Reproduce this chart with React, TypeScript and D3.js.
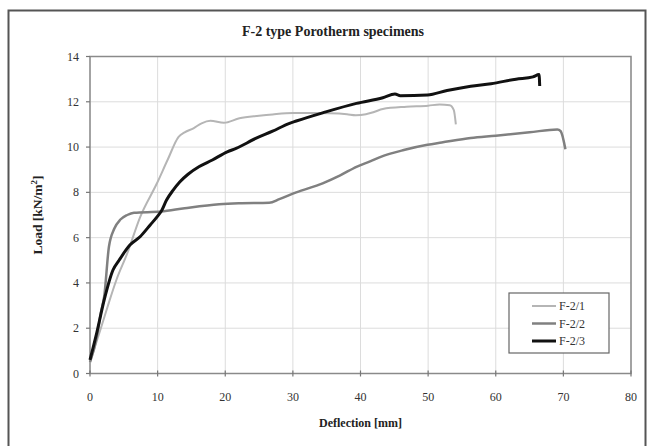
import React from "react";
import * as d3 from "d3";

const xTicks = [0, 10, 20, 30, 40, 50, 60, 70, 80];
const yTicks = [0, 2, 4, 6, 8, 10, 12, 14];

const f21: [number, number][] = [
  [0, 0.5], [1.5, 1.9], [2.6, 2.95], [3.9, 4.13], [5.5, 5.3], [7.4, 6.9], [9.9, 8.4], [11.5, 9.45],
  [13.1, 10.45], [14, 10.65], [15.3, 10.83], [16.5, 11.05], [17.8, 11.16], [19.8, 11.07], [22.1, 11.27],
  [25, 11.38], [27, 11.44], [30, 11.5], [33, 11.5], [35.4, 11.49], [38, 11.45], [39.3, 11.41],
  [40.8, 11.45], [42, 11.55], [43.3, 11.68], [46.8, 11.78], [50, 11.83], [51.7, 11.88], [53.2, 11.85],
  [53.8, 11.63], [54.1, 11.0],
];

const f22: [number, number][] = [
  [0, 0.5], [1, 1.6], [1.6, 2.67], [2.1, 3.4], [2.8, 5.6], [3.6, 6.4], [4.5, 6.8], [5.5, 7.0], [6.5, 7.1],
  [10.5, 7.15], [14, 7.3], [19.1, 7.48], [22, 7.52], [26.5, 7.54], [28, 7.7], [30.5, 8.0], [34.4, 8.4],
  [37, 8.75], [39.4, 9.13], [41.5, 9.38], [43, 9.57], [46.4, 9.87], [49.9, 10.1], [52, 10.2], [56.3, 10.4],
  [60, 10.5], [65, 10.65], [69.1, 10.78], [69.6, 10.7], [70.3, 9.9],
];

const f23: [number, number][] = [
  [0, 0.6], [1, 1.8], [2.1, 3.25], [3.4, 4.57], [4.3, 5.0], [5.9, 5.67], [7.4, 6.04], [8.9, 6.56],
  [10, 6.95], [10.6, 7.2], [11.3, 7.65], [12.3, 8.1], [13.3, 8.47], [14.5, 8.8], [16.1, 9.13],
  [18.1, 9.43], [20.3, 9.79], [21.6, 9.94], [24.5, 10.38], [27, 10.7], [29.5, 11.05], [30.5, 11.15],
  [34.4, 11.51], [39.4, 11.93], [43.3, 12.18], [45.1, 12.34], [45.9, 12.27], [49.9, 12.3], [52.8, 12.5],
  [56.3, 12.69], [59.3, 12.8], [63, 13.0], [65.5, 13.1], [66.4, 13.2], [66.5, 12.7],
];

const seriesNames = ["F-2/1", "F-2/2", "F-2/3"];
const seriesColors = ["#b5b5b5", "#808080", "#111111"];
const seriesWidths = [2, 2.5, 3];
const seriesData = [f21, f22, f23];

export default function App() {
  const left = 90, right = 631, top = 56.5, bottom = 373.5;
  const x = d3.scaleLinear().domain([0, 80]).range([left, right]);
  const y = d3.scaleLinear().domain([0, 14]).range([bottom, top]);
  const line = d3.line<[number, number]>().x(d => x(d[0])).y(d => y(d[1])).curve(d3.curveMonotoneX);
  const serif = "'Liberation Serif', 'Times New Roman', serif";

  const lgX = 509, lgY = 293;
  return (
    <svg width={653} height={446} style={{ position: "absolute", left: 0, top: 0, background: "#fff" }}>
      <rect x={0} y={0} width={653} height={446} fill="#fff" />
      <rect x={8.5} y={10.5} width={637} height={450} fill="none" stroke="#555" strokeWidth={2} />
      <text x={333} y={36} textAnchor="middle" fontFamily={serif} fontWeight="bold" fontSize={14} fill="#222">
        F-2 type Porotherm specimens
      </text>
      {xTicks.map(t => (
        <line key={"gx" + t} x1={x(t)} x2={x(t)} y1={top} y2={bottom} stroke="#dcdcdc" strokeWidth={1} />
      ))}
      {yTicks.map(t => (
        <line key={"gy" + t} x1={left} x2={right} y1={y(t)} y2={y(t)} stroke="#dcdcdc" strokeWidth={1} />
      ))}
      <rect x={left} y={top} width={right - left} height={bottom - top} fill="none" stroke="#8a8a8a" strokeWidth={1.5} />
      {xTicks.map(t => (
        <g key={"tx" + t}>
          <line x1={x(t)} x2={x(t)} y1={bottom - 3} y2={bottom + 3} stroke="#777" strokeWidth={1.2} />
          <text x={x(t)} y={401} textAnchor="middle" fontFamily={serif} fontSize={12} fill="#333">{t}</text>
        </g>
      ))}
      {yTicks.map(t => (
        <g key={"ty" + t}>
          <line x1={left - 4} x2={left} y1={y(t)} y2={y(t)} stroke="#777" strokeWidth={1.2} />
          <text x={79} y={y(t) + 4} textAnchor="end" fontFamily={serif} fontSize={12} fill="#333">{t}</text>
        </g>
      ))}
      <text x={(left + right) / 2} y={427} textAnchor="middle" fontFamily={serif} fontWeight="bold" fontSize={12} fill="#222">
        Deflection [mm]
      </text>
      <text transform={`translate(42, ${(top + bottom) / 2}) rotate(-90)`} textAnchor="middle" fontFamily={serif} fontWeight="bold" fontSize={13.5} fill="#222">
        Load [kN/m<tspan dy={-5} fontSize={9}>2</tspan><tspan dy={5}>]</tspan>
      </text>
      {seriesData.map((d, i) => (
        <path key={"s" + i} d={line(d) || ""} fill="none" stroke={seriesColors[i]} strokeWidth={seriesWidths[i]} strokeLinejoin="round" />
      ))}
      <rect x={lgX} y={lgY} width={100} height={60} fill="#fff" stroke="#666" strokeWidth={1.2} />
      {seriesNames.map((n, i) => (
        <g key={"l" + i}>
          <line x1={lgX + 23} x2={lgX + 47} y1={lgY + 13 + i * 17.5} y2={lgY + 13 + i * 17.5} stroke={seriesColors[i]} strokeWidth={seriesWidths[i]} />
          <text x={lgX + 50} y={lgY + 17 + i * 17.5} fontFamily={serif} fontSize={12} fill="#333">{n}</text>
        </g>
      ))}
    </svg>
  );
}
